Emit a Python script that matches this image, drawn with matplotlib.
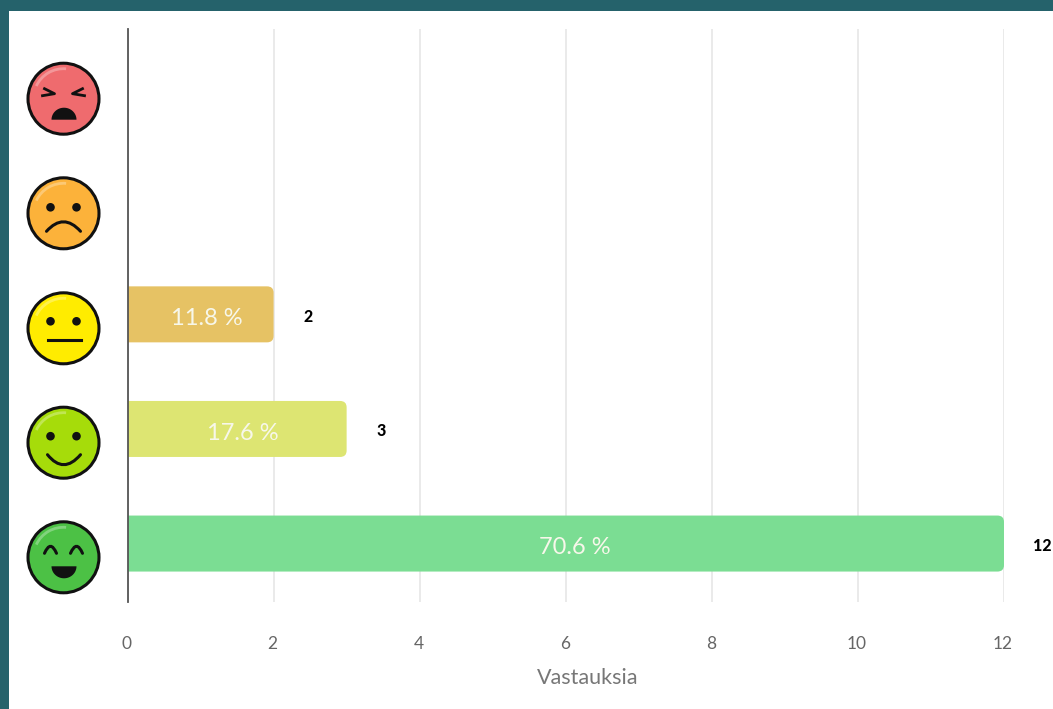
import numpy as np
import matplotlib
matplotlib.use('Agg')
import matplotlib.pyplot as plt
from matplotlib.patches import Circle, FancyBboxPatch, Polygon, Arc, Rectangle, PathPatch
from matplotlib.path import Path
from matplotlib.transforms import ScaledTranslation

plt.rcParams['font.family'] = ['Lato', 'DejaVu Sans']

# rows top to bottom
faces = ['angry', 'sad', 'neutral', 'smile', 'happy']
answers = [0, 0, 2, 3, 12]
percents = [None, None, '11.8 %', '17.6 %', '70.6 %']
bar_colors = ['#f08080', '#fbb45c', '#e6c264', '#dde572', '#7bdd93']
face_colors = ['#ef6b6e', '#fcb23a', '#ffec00', '#a6dc0a', '#4cc145']
xticks = [0, 2, 4, 6, 8, 10, 12]

W, H = 1053, 709
TEAL = '#25626b'

fig = plt.figure(figsize=(W / 100, H / 100), dpi=100, facecolor='white')
ax = fig.add_axes([127.5 / W, (H - 602) / H, (1004 - 127.5) / W, (602 - 29) / H])

# gridlines and axis
ax.set_xlim(0, 12)
ax.set_ylim(4.51, -0.49)
ax.set_axisbelow(True)
ax.grid(True, axis='x', color='#e6e6e6', lw=1.2)
for s in ['top', 'right', 'bottom']:
    ax.spines[s].set_visible(False)
ax.spines['left'].set_color('#555555')
ax.spines['left'].set_linewidth(1.3)
ax.spines['left'].set_zorder(5)
ax.set_yticks([])
ax.set_xticks(xticks)
ax.tick_params(axis='x', length=0, pad=24.7, labelsize=12.5, labelcolor='#666666')
shift = ScaledTranslation(-1 / 100, 0, fig.dpi_scale_trans)
for lab in ax.get_xticklabels():
    lab.set_transform(lab.get_transform() + shift)
ax.set_xlabel('Vastauksia', fontsize=15.5, color='#777777')
ax.xaxis.set_label_coords(0.525, -0.115)

bar_h = 56 / 114.6
pct_dx = [0, 0, 4.3, 3.9, 6.8]
for i, v in enumerate(answers):
    if v == 0:
        continue
    # starts left of zero so only the right corners stay rounded after clipping
    ax.add_patch(FancyBboxPatch((-0.2, i - bar_h / 2), v + 0.2, bar_h,
                                boxstyle='round,pad=0,rounding_size=0.09',
                                mutation_aspect=0.62, fc=bar_colors[i], ec='none', zorder=3))
    ax.annotate(percents[i], (v / 2, i), xytext=(pct_dx[i], -3.2), textcoords='offset points',
                ha='center', va='center', fontsize=17, color='#f7f7ea', zorder=4)
    ax.annotate(str(v), (v, i), xytext=(21.2, -1.7), textcoords='offset points',
                ha='left', va='center', fontsize=11.5, fontweight='black',
                color='black', annotation_clip=False)

# overlay in pixel coords for the frame and the face icons
ov = fig.add_axes([0, 0, 1, 1], zorder=10)
ov.set_xlim(0, W)
ov.set_ylim(H, 0)
ov.axis('off')
ov.add_patch(Rectangle((0, 0), W, 11, fc=TEAL, ec='none'))
ov.add_patch(Rectangle((0, 0), 9, H, fc=TEAL, ec='none'))


def curve(cx, cy, pts, lw=2.2):
    # quadratic through a control point
    (x0, y0), (x1, y1), (x2, y2) = pts
    verts = [(cx + x0, cy + y0), (cx + x1, cy + y1), (cx + x2, cy + y2)]
    p = Path(verts, [Path.MOVETO, Path.CURVE3, Path.CURVE3])
    ov.add_patch(PathPatch(p, fc='none', ec='#111111', lw=lw, capstyle='round'))


def eyes(cx, cy, dy):
    for sx in (-13, 13):
        ov.add_patch(Circle((cx + sx, cy + dy), 4.3, fc='#111111', ec='none'))


def draw_face(kind, color, cy, cx=63.5, r=35.5):
    ov.add_patch(Circle((cx, cy), r, fc=color, ec='#111111', lw=2.2))
    ov.add_patch(Arc((cx, cy), 60, 60, theta1=205, theta2=275,
                     color='white', alpha=0.3, lw=2.0))
    if kind == 'angry':
        for s in (-1, 1):
            ov.plot([cx + s * 19, cx + s * 9, cx + s * 21], [cy - 10, cy - 5, cy - 3],
                    color='#111111', lw=2.0)
        t = np.linspace(0, np.pi, 30)
        mx = cx + 0.5 + 12.5 * np.cos(t)
        my = cy + 21 - 12 * np.sin(t)
        ov.add_patch(Polygon(np.column_stack([mx, my]), fc='#111111', ec='none'))
    elif kind == 'sad':
        eyes(cx, cy, -6)
        curve(cx, cy, [(-17, 18), (0, -1), (17, 18)])
    elif kind == 'neutral':
        eyes(cx, cy, -7)
        ov.plot([cx - 16, cx + 17], [cy + 12, cy + 12], color='#111111', lw=2.2)
    elif kind == 'smile':
        eyes(cx, cy, -6.5)
        curve(cx, cy, [(-16, 12), (0, 32), (17, 12)])
    else:
        for s in (-13, 13):
            curve(cx, cy, [(s - 6, -4), (s, -18), (s + 6, -4)], lw=2.2)
        t = np.linspace(0, np.pi, 30)
        mx = cx + 0.5 + 12.5 * np.cos(t)
        my = cy + 9 + 12 * np.sin(t)
        ov.add_patch(Polygon(np.column_stack([mx, my]), fc='#111111', ec='none'))


face_y = [98.7, 213.3, 328.3, 442.7, 557.3]
for kind, col, y in zip(faces, face_colors, face_y):
    draw_face(kind, col, y)

fig.savefig('out.png', dpi=100, facecolor='white')
